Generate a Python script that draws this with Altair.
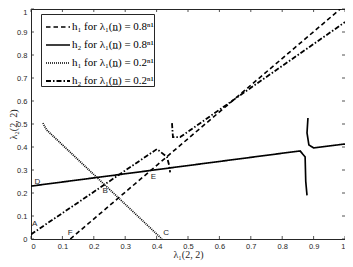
import altair as alt
import pandas as pd

series_names = [
    "h₁ for λ₁(n̲) = 0.8ⁿ¹",
    "h₂ for λ₁(n̲) = 0.8ⁿ¹",
    "h₁ for λ₁(n̲) = 0.2ⁿ¹",
    "h₂ for λ₁(n̲) = 0.2ⁿ¹",
]

# h1 for 0.8 (dashed)
h1_08_x = [0.125, 0.985]
h1_08_y = [0.0, 1.0]
# h2 for 0.8 (solid), two pieces
h2_08_a_x = [0.0, 0.857, 0.873, 0.875, 0.879]
h2_08_a_y = [0.23, 0.383, 0.357, 0.25, 0.19]
h2_08_b_x = [0.882, 0.879, 0.885, 0.9, 1.0]
h2_08_b_y = [0.526, 0.461, 0.409, 0.396, 0.413]
# h1 for 0.2 (dotted)
h1_02_x = [0.038, 0.05, 0.417]
h1_02_y = [0.504, 0.474, 0.0]
# h2 for 0.2 (dash-dot), two pieces
h2_02_a_x = [0.0, 0.401, 0.433, 0.44, 0.443]
h2_02_a_y = [0.02, 0.391, 0.357, 0.32, 0.29]
h2_02_b_x = [0.449, 0.452, 0.475, 1.0]
h2_02_b_y = [0.504, 0.443, 0.443, 0.943]

point_labels = ["A", "B", "C", "D", "E", "F"]
point_x = [0.012, 0.236, 0.43, 0.02, 0.39, 0.125]
point_y = [0.065, 0.21, 0.025, 0.25, 0.27, 0.025]

tick_vals = [0.0, 0.1, 0.2, 0.3, 0.4, 0.5, 0.6, 0.7, 0.8, 0.9, 1.0]

pieces = [
    (series_names[0], "a", h1_08_x, h1_08_y),
    (series_names[1], "b", h2_08_a_x, h2_08_a_y),
    (series_names[1], "c", h2_08_b_x, h2_08_b_y),
    (series_names[2], "d", h1_02_x, h1_02_y),
    (series_names[3], "e", h2_02_a_x, h2_02_a_y),
    (series_names[3], "f", h2_02_b_x, h2_02_b_y),
]
rows = []
for s, seg, xs, ys in pieces:
    for i, (xv, yv) in enumerate(zip(xs, ys)):
        rows.append({"x": xv, "y": yv, "series": s, "seg": seg, "i": i})
df = pd.DataFrame(rows)

lab_df = pd.DataFrame({"x": point_x, "y": point_y, "label": point_labels})
tick_df = pd.DataFrame({"t": tick_vals})

W, H = 314, 230
AX = "#262626"
xscale = alt.Scale(domain=[0, 1], nice=False)
yscale = alt.Scale(domain=[0, 1], nice=False)
xaxis = alt.Axis(values=tick_vals, format="~g", title="λ₁(2, 2)",
                 grid=False, ticks=False, domain=False, labelOverlap=False,
                 labelPadding=3, titlePadding=0)
yaxis = alt.Axis(values=tick_vals, format="~g", title="λ₂(2, 2)",
                 grid=False, ticks=False, domain=False, labelOverlap=False,
                 labelOffset={"condition": {"test": "datum.value == 1", "value": 3}, "value": 0},
                 labelPadding=4, titleX=-13, titleBaseline="bottom")

lines = alt.Chart(df).mark_line(color="black", clip=True).encode(
    x=alt.X("x:Q", scale=xscale, axis=xaxis),
    y=alt.Y("y:Q", scale=yscale, axis=yaxis),
    strokeDash=alt.StrokeDash("series:N", scale=alt.Scale(domain=series_names,
                              range=[[4.5, 3], [1, 0], [1, 1], [5, 2, 1.5, 2]]),
                              legend=alt.Legend(title=None)),
    strokeWidth=alt.StrokeWidth("series:N", scale=alt.Scale(domain=series_names,
                                range=[1.6, 1.8, 1.0, 1.6]),
                                legend=alt.Legend(title=None)),
    detail="seg:N",
    order="i:Q",
)

labels = alt.Chart(lab_df).mark_text(font="Liberation Sans", fontSize=8, color=AX).encode(
    x=alt.X("x:Q", scale=xscale, axis=xaxis), y=alt.Y("y:Q", scale=yscale, axis=yaxis), text="label:N"
)

tb = alt.Chart(tick_df).mark_rule(color=AX, strokeWidth=0.8).encode(
    x=alt.X("t:Q", scale=xscale, axis=xaxis), y=alt.value(H), y2=alt.value(H - 3))
tt = alt.Chart(tick_df).mark_rule(color=AX, strokeWidth=0.8).encode(
    x=alt.X("t:Q", scale=xscale, axis=xaxis), y=alt.value(0), y2=alt.value(3))
tl = alt.Chart(tick_df).mark_rule(color=AX, strokeWidth=0.8).encode(
    y=alt.Y("t:Q", scale=yscale, axis=yaxis), x=alt.value(0), x2=alt.value(3))
tr = alt.Chart(tick_df).mark_rule(color=AX, strokeWidth=0.8).encode(
    y=alt.Y("t:Q", scale=yscale, axis=yaxis), x=alt.value(W), x2=alt.value(W - 3))

chart = alt.layer(lines, labels, tb, tt, tl, tr).properties(
    width=W, height=H,
    autosize=alt.AutoSizeParams(type="none"),
    padding={"left": 23, "top": 1, "right": 0, "bottom": 27},
).configure_view(stroke=AX, strokeWidth=1).configure_axis(
    labelFont="Liberation Sans", labelFontSize=7.5, labelColor=AX,
    titleFont="Liberation Serif", titleFontSize=10, titleColor=AX, titleFontWeight="normal",
).configure_legend(
    orient="none", legendX=10, legendY=5,
    fillColor="white", strokeColor=AX, padding=0,
    symbolType="stroke", symbolSize=576, symbolStrokeColor="black", symbolOffset=4,
    labelFont="Liberation Serif", labelFontSize=11, labelColor="black",
    rowPadding=-10.2, labelOffset=1, cornerRadius=0,
)

chart.save("out.html", embed_options={"renderer": "svg", "actions": False})
